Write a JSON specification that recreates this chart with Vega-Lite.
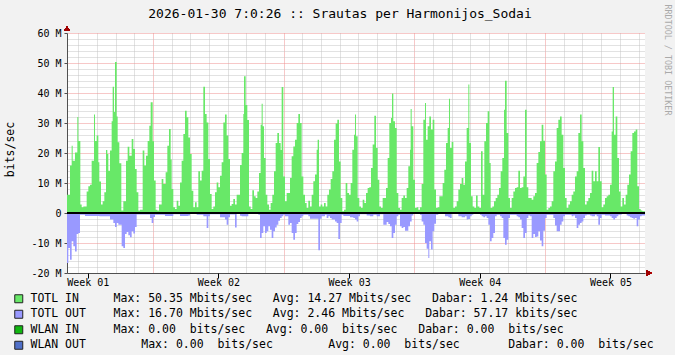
{
"$schema": "https://vega.github.io/schema/vega-lite/v6.json",
"width": 578, "height": 240,
"autosize": {"type": "none"},
"padding": {"left": 67, "top": 33, "right": 30, "bottom": 82},
"background": "#F2F2F2",
"config": {"font": "DejaVu Sans Mono", "view": {"stroke": null, "fill": "#FFFFFF"}},
"title": {"text": "2026-01-30 7:0:26 :: Srautas per Harmonijos_Sodai", "font": "DejaVu Sans Mono", "fontSize": 13, "fontWeight": "normal", "color": "#000000", "anchor": "middle", "dx": -16, "offset": -27, "baseline": "alphabetic"},
"data": {"values": [
{"t":2.39,"i":6.1,"o":-16.7},{"t":2.461,"i":6.1,"o":-11.7},{"t":2.551,"i":15.8,"o":-15.6},{"t":2.64,"i":22.4,"o":-9.4},{"t":2.694,"i":17.4,"o":-9.4},{"t":2.729,"i":17.4,"o":-11.1},{"t":2.818,"i":20.2,"o":-12.8},{"t":2.908,"i":20.2,"o":-7},{"t":2.943,"i":32,"o":-7},{"t":2.997,"i":24,"o":-6.7},{"t":3.086,"i":24,"o":-0.6},{"t":3.104,"i":2.8,"o":-0.6},{"t":3.176,"i":1.9,"o":-0.6},{"t":3.265,"i":2.2,"o":-0.6},{"t":3.354,"i":2.2,"o":-1},{"t":3.443,"i":7.2,"o":-1},{"t":3.533,"i":8.9,"o":-1},{"t":3.622,"i":9.4,"o":-1},{"t":3.711,"i":17.4,"o":-1},{"t":3.836,"i":32.8,"o":-1},{"t":3.89,"i":24,"o":-1},{"t":3.979,"i":25.8,"o":-1},{"t":4.068,"i":16.9,"o":-1},{"t":4.122,"i":10.5,"o":-1.1},{"t":4.211,"i":2.8,"o":-1.1},{"t":4.3,"i":3.9,"o":-1.1},{"t":4.39,"i":6.9,"o":-1.1},{"t":4.479,"i":21,"o":-1.1},{"t":4.55,"i":19.7,"o":-1.1},{"t":4.604,"i":14.1,"o":-1.1},{"t":4.693,"i":20.8,"o":-2.2},{"t":4.782,"i":30.6,"o":-2.2},{"t":4.836,"i":42.1,"o":-2.2},{"t":4.872,"i":42.1,"o":-3.3},{"t":4.907,"i":33.7,"o":-3.3},{"t":4.961,"i":50.35,"o":-4.7},{"t":5.05,"i":32.2,"o":-3.3},{"t":5.104,"i":23.6,"o":-3.3},{"t":5.139,"i":23.6,"o":-3.9},{"t":5.193,"i":16.6,"o":-3.9},{"t":5.3,"i":0.8,"o":-3.9},{"t":5.318,"i":0.8,"o":-11.1},{"t":5.407,"i":3.9,"o":-11.7},{"t":5.497,"i":3.9,"o":-7},{"t":5.55,"i":17.4,"o":-7},{"t":5.586,"i":17.4,"o":-6.3},{"t":5.639,"i":22.1,"o":-6.3},{"t":5.675,"i":22.1,"o":-7.4},{"t":5.729,"i":19.1,"o":-7.4},{"t":5.764,"i":19.1,"o":-8.1},{"t":5.854,"i":24.7,"o":-6.1},{"t":5.943,"i":21.3,"o":-6.8},{"t":6.032,"i":14.7,"o":-4.7},{"t":6.121,"i":6.9,"o":-0.5},{"t":6.211,"i":0.8,"o":-0.5},{"t":6.3,"i":1.1,"o":-0.5},{"t":6.443,"i":20.8,"o":-0.5},{"t":6.532,"i":15.8,"o":-0.5},{"t":6.621,"i":19.1,"o":-0.5},{"t":6.71,"i":24,"o":-0.5},{"t":6.8,"i":29.1,"o":-0.5},{"t":6.835,"i":29.1,"o":-1.7},{"t":6.871,"i":36.9,"o":-1.7},{"t":6.925,"i":36.9,"o":-3.3},{"t":6.978,"i":23.9,"o":-3.3},{"t":7.014,"i":23.9,"o":-1.3},{"t":7.05,"i":10.8,"o":-1.3},{"t":7.103,"i":10.8,"o":-0.6},{"t":7.139,"i":1.1,"o":-0.6},{"t":7.228,"i":0.8,"o":-0.6},{"t":7.317,"i":2.8,"o":-0.6},{"t":7.46,"i":11.3,"o":-0.6},{"t":7.55,"i":9.7,"o":-0.6},{"t":7.639,"i":9.7,"o":-1},{"t":7.674,"i":13.6,"o":-1},{"t":7.764,"i":22.4,"o":-1},{"t":7.853,"i":28,"o":-1},{"t":7.942,"i":17.8,"o":-1},{"t":7.996,"i":8,"o":-1},{"t":8.085,"i":1.9,"o":-0.4},{"t":8.174,"i":1.3,"o":-0.4},{"t":8.264,"i":4.1,"o":-0.4},{"t":8.353,"i":2.4,"o":-0.4},{"t":8.442,"i":10.2,"o":-1},{"t":8.531,"i":17.4,"o":-1},{"t":8.621,"i":26.3,"o":-1},{"t":8.71,"i":34.1,"o":-1},{"t":8.799,"i":31.9,"o":-1},{"t":8.889,"i":25.2,"o":-0.8},{"t":8.978,"i":19.7,"o":-0.3},{"t":9.067,"i":7.4,"o":-0.3},{"t":9.156,"i":1.9,"o":-0.3},{"t":9.246,"i":3.6,"o":-0.3},{"t":9.335,"i":1.9,"o":-0.6},{"t":9.424,"i":13.9,"o":-0.6},{"t":9.513,"i":10.8,"o":-0.6},{"t":9.603,"i":14.1,"o":-0.6},{"t":9.692,"i":42.1,"o":-1.1},{"t":9.781,"i":33,"o":-1.1},{"t":9.87,"i":30.2,"o":-5},{"t":9.96,"i":18,"o":-1.1},{"t":10.049,"i":6.3,"o":-0.4},{"t":10.138,"i":1.3,"o":-0.4},{"t":10.227,"i":2.2,"o":-0.4},{"t":10.317,"i":6.9,"o":-0.4},{"t":10.406,"i":10.2,"o":-0.4},{"t":10.495,"i":8.6,"o":-0.4},{"t":10.584,"i":12.4,"o":-1.4},{"t":10.674,"i":16.9,"o":-1.4},{"t":10.763,"i":30.2,"o":-1.4},{"t":10.852,"i":32.8,"o":-2.2},{"t":10.941,"i":25.8,"o":-3.9},{"t":11.031,"i":18,"o":-1.4},{"t":11.12,"i":2.4,"o":-0.5},{"t":11.209,"i":3,"o":-0.5},{"t":11.298,"i":4.7,"o":-0.5},{"t":11.388,"i":2.8,"o":-4.8},{"t":11.477,"i":6.1,"o":-0.3},{"t":11.566,"i":6.1,"o":-0.3},
{"t":11.656,"i":16,"o":-0.9},{"t":11.745,"i":20,"o":-1.1},{"t":11.834,"i":33,"o":-1.1},{"t":11.87,"i":45.6,"o":-1.1},{"t":11.959,"i":36,"o":-1.1},{"t":12.048,"i":31,"o":-1.1},{"t":12.102,"i":31,"o":-0.3},{"t":12.138,"i":2.2,"o":-0.3},{"t":12.227,"i":1.3,"o":-0.3},{"t":12.316,"i":7.6,"o":-0.3},{"t":12.405,"i":5.6,"o":-0.3},{"t":12.495,"i":5,"o":-0.3},{"t":12.584,"i":7.2,"o":-0.3},{"t":12.638,"i":7.2,"o":-0.6},{"t":12.673,"i":13.3,"o":-0.6},{"t":12.727,"i":13.3,"o":-8.3},{"t":12.762,"i":29.4,"o":-8.3},{"t":12.816,"i":36.4,"o":-6.7},{"t":12.87,"i":28.9,"o":-6.7},{"t":12.905,"i":28.9,"o":-4.4},{"t":12.941,"i":18.3,"o":-4.4},{"t":12.995,"i":18.3,"o":-6.7},{"t":13.03,"i":6.1,"o":-6.7},{"t":13.084,"i":6.1,"o":-6.1},{"t":13.12,"i":2.8,"o":-6.1},{"t":13.173,"i":2.8,"o":-4.4},{"t":13.209,"i":1.1,"o":-4.4},{"t":13.262,"i":1.1,"o":-5.6},{"t":13.298,"i":3.3,"o":-5.6},{"t":13.352,"i":3.3,"o":-8.3},{"t":13.387,"i":6.1,"o":-8.3},{"t":13.441,"i":6.1,"o":-6.1},{"t":13.477,"i":13.9,"o":-6.1},{"t":13.53,"i":13.9,"o":-4.8},{"t":13.566,"i":23.3,"o":-4.8},{"t":13.619,"i":23.3,"o":-3.9},{"t":13.655,"i":26.7,"o":-3.9},{"t":13.709,"i":26.7,"o":-2.6},{"t":13.744,"i":23.3,"o":-2.6},{"t":13.798,"i":23.3,"o":-1.7},{"t":13.834,"i":21,"o":-1.7},{"t":13.887,"i":42,"o":-1.1},{"t":13.976,"i":12.2,"o":-0.6},{"t":14.066,"i":3.9,"o":-1.1},{"t":14.155,"i":6.7,"o":-1.1},{"t":14.244,"i":6.7,"o":-3.9},{"t":14.334,"i":11.7,"o":-3.3},{"t":14.423,"i":18.9,"o":-6.7},{"t":14.512,"i":22.2,"o":-8.9},{"t":14.601,"i":24.4,"o":-6.7},{"t":14.691,"i":30,"o":-3.7},{"t":14.78,"i":33,"o":-3},{"t":14.869,"i":30,"o":-1.7},{"t":14.958,"i":12.2,"o":-1.1},{"t":15.048,"i":6.1,"o":-0.6},{"t":15.137,"i":3.3,"o":-0.6},{"t":15.226,"i":1.7,"o":-0.6},{"t":15.315,"i":4.1,"o":-1.1},{"t":15.405,"i":2.2,"o":-1.9},{"t":15.494,"i":6.1,"o":-1.9},{"t":15.583,"i":10.6,"o":-1.9},{"t":15.672,"i":12.8,"o":-1.9},{"t":15.762,"i":21.1,"o":-1.9},{"t":15.815,"i":24.4,"o":-1.9},{"t":15.851,"i":24.4,"o":-12.4},{"t":15.887,"i":2.2,"o":-12.4},{"t":15.94,"i":2.2,"o":-1.9},{"t":15.976,"i":2.8,"o":-1.9},{"t":16.029,"i":2.8,"o":-1.1},{"t":16.065,"i":2.2,"o":-1.1},{"t":16.154,"i":3.3,"o":-1.1},{"t":16.208,"i":3.3,"o":-0.6},{"t":16.244,"i":2.2,"o":-0.6},{"t":16.297,"i":2.2,"o":-1.7},{"t":16.333,"i":6.1,"o":-1.7},{"t":16.387,"i":6.1,"o":-1.1},{"t":16.422,"i":7.8,"o":-1.1},{"t":16.476,"i":7.8,"o":-1.7},{"t":16.512,"i":11.3,"o":-1.7},{"t":16.565,"i":11.3,"o":-2.2},{"t":16.601,"i":13.9,"o":-2.2},{"t":16.69,"i":24.4,"o":-2.2},{"t":16.744,"i":24.4,"o":-2.8},{"t":16.779,"i":29.8,"o":-2.8},{"t":16.833,"i":29.8,"o":-3.3},{"t":16.869,"i":31.1,"o":-3.3},{"t":16.922,"i":31.1,"o":-8.7},{"t":16.958,"i":17.2,"o":-8.7},{"t":17.011,"i":17.2,"o":-3.3},{"t":17.047,"i":5,"o":-3.3},{"t":17.101,"i":5,"o":-0.6},{"t":17.136,"i":0.6,"o":-0.6},{"t":17.19,"i":0.6,"o":-1},{"t":17.226,"i":1.1,"o":-1},{"t":17.315,"i":10,"o":-1},{"t":17.404,"i":6.7,"o":-1},{"t":17.494,"i":6.1,"o":-1},{"t":17.547,"i":6.1,"o":-1.4},{"t":17.583,"i":10,"o":-1.4},{"t":17.672,"i":21.1,"o":-1.4},{"t":17.726,"i":21.1,"o":-1.7},{"t":17.761,"i":26.1,"o":-1.7},{"t":17.815,"i":32.8,"o":-2.2},{"t":17.868,"i":25.6,"o":-2.2},{"t":17.904,"i":25.6,"o":-2.8},{"t":17.958,"i":5,"o":-2.8},{"t":17.993,"i":5,"o":-1.1},{"t":18.047,"i":2.2,"o":-1.1},{"t":18.083,"i":2.2,"o":-0.4},{"t":18.136,"i":1.7,"o":-0.4},{"t":18.226,"i":4.4,"o":-0.4},{"t":18.315,"i":3.3,"o":-0.4},{"t":18.404,"i":6.7,"o":-0.4},{"t":18.44,"i":6.7,"o":-0.8},{"t":18.493,"i":8.3,"o":-0.8},{"t":18.583,"i":8.6,"o":-0.8},{"t":18.618,"i":8.6,"o":-1.1},{"t":18.672,"i":15,"o":-1.1},{"t":18.761,"i":22.8,"o":-1.1},{"t":18.797,"i":22.8,"o":-0.6},{"t":18.85,"i":32.4,"o":-0.6},{"t":18.94,"i":21.7,"o":-0.6},{"t":18.975,"i":21.7,"o":-1.1},{"t":19.029,"i":11.1,"o":-1.1},{"t":19.118,"i":2.2,"o":-1.1},{"t":19.154,"i":2.2,"o":-0.4},{"t":19.207,"i":1.7,"o":-0.4},{"t":19.297,"i":5,"o":-0.4},{"t":19.332,"i":5,"o":-3.9},{"t":19.475,"i":8.3,"o":-3.9},{"t":19.511,"i":8.3,"o":-3},{"t":19.565,"i":18.3,"o":-3},{"t":19.6,"i":18.3,"o":-3.7},{"t":19.654,"i":30,"o":-3.7},{"t":19.689,"i":30,"o":-4.4},{"t":19.743,"i":31.7,"o":-4.4},{"t":19.779,"i":31.7,"o":-8.3},{"t":19.797,"i":39.8,"o":-8.3},{"t":19.868,"i":30.6,"o":-6.7},{"t":19.957,"i":28.3,"o":-3.9},{"t":20.047,"i":6.7,"o":-1.1},{"t":20.136,"i":1.7,"o":-0.6},{"t":20.225,"i":1.1,"o":-4.4},{"t":20.314,"i":5,"o":-5},{"t":20.404,"i":5.8,"o":-4.7},{"t":20.493,"i":5,"o":-5.9},{"t":20.582,"i":8.3,"o":-5.9},{"t":20.671,"i":15.6,"o":-4.4},{"t":20.761,"i":21.1,"o":-2.8},{"t":20.796,"i":34.7,"o":-2.8},{"t":20.85,"i":28.9,"o":-0.8},{"t":20.939,"i":11.1,"o":-0.3},{"t":21.028,"i":1.7,"o":-0.3},{"t":21.118,"i":1.9,"o":-0.3},{"t":21.207,"i":1.1,"o":-0.3},{"t":21.296,"i":1.9,"o":-0.6},{"t":21.385,"i":9.7,"o":-2.8},{"t":21.475,"i":31.1,"o":-3.9},{"t":21.564,"i":36.7,"o":-10},{"t":21.618,"i":24.4,"o":-10},{"t":21.653,"i":24.4,"o":-11.9},{"t":21.707,"i":28.9,"o":-11.9},{"t":21.743,"i":28.9,"o":-15},{"t":21.796,"i":32.2,"o":-9.4},{"t":21.885,"i":27.8,"o":-12.2},{"t":21.975,"i":31.1,"o":-6.1},{"t":22.064,"i":7.8,"o":-3.6},{"t":22.153,"i":1.7,"o":-0.6},{"t":22.242,"i":1.9,"o":-0.6},{"t":22.278,"i":1.9,"o":-0.3},{"t":22.332,"i":5.6,"o":-0.3},{"t":22.51,"i":10,"o":-0.3},{"t":22.599,"i":14.4,"o":-0.3},{"t":22.635,"i":14.4,"o":-1.1},{"t":22.689,"i":23.3,"o":-1.1},{"t":22.778,"i":28.3,"o":-1.1},{"t":22.814,"i":28.3,"o":-1.4},{"t":22.849,"i":38.1,"o":-1.4},
{"t":22.904,"i":21.7,"o":-1.7},{"t":22.993,"i":23.7,"o":-0.3},{"t":23.082,"i":1.7,"o":-0.2},{"t":23.171,"i":2.2,"o":-0.2},{"t":23.261,"i":3.9,"o":-0.2},{"t":23.35,"i":7.8,"o":-1.1},{"t":23.439,"i":9.7,"o":-1.1},{"t":23.528,"i":11.7,"o":-1.4},{"t":23.618,"i":9.4,"o":-1.4},{"t":23.707,"i":17.2,"o":-1.1},{"t":23.796,"i":28.3,"o":-2.2},{"t":23.886,"i":42.8,"o":-2},{"t":23.939,"i":23.3,"o":-2},{"t":23.975,"i":23.3,"o":-1.1},{"t":24.028,"i":5.6,"o":-1.1},{"t":24.064,"i":5.6,"o":-0.6},{"t":24.118,"i":2.2,"o":-0.6},{"t":24.153,"i":2.2,"o":-0.2},{"t":24.207,"i":1.7,"o":-0.2},{"t":24.296,"i":5.8,"o":-0.2},{"t":24.385,"i":2.2,"o":-0.2},{"t":24.475,"i":1.7,"o":-0.2},{"t":24.51,"i":1.7,"o":-0.6},{"t":24.564,"i":20.6,"o":-0.6},{"t":24.6,"i":20.6,"o":-1.1},{"t":24.653,"i":6.1,"o":-1.1},{"t":24.689,"i":6.1,"o":-1.4},{"t":24.742,"i":23.9,"o":-1.4},{"t":24.778,"i":23.9,"o":-1.1},{"t":24.832,"i":30,"o":-1.1},{"t":24.867,"i":30,"o":-1.7},{"t":24.921,"i":33.9,"o":-1.7},{"t":24.957,"i":33.9,"o":-3.9},{"t":25.01,"i":16.7,"o":-3.9},{"t":25.046,"i":16.7,"o":-9.4},{"t":25.082,"i":1.7,"o":-9.4},{"t":25.135,"i":1.7,"o":-8.3},{"t":25.171,"i":2.2,"o":-8.3},{"t":25.224,"i":2.2,"o":-6.7},{"t":25.26,"i":3.9,"o":-6.7},{"t":25.314,"i":3.9,"o":-1.1},{"t":25.349,"i":5,"o":-1.1},{"t":25.403,"i":5,"o":-0.6},{"t":25.439,"i":6.1,"o":-0.6},{"t":25.528,"i":8.3,"o":-0.6},{"t":25.582,"i":8.3,"o":-1.1},{"t":25.617,"i":13.9,"o":-1.1},{"t":25.671,"i":13.9,"o":-1.7},{"t":25.706,"i":18.3,"o":-1.7},{"t":25.76,"i":18.3,"o":-8.3},{"t":25.796,"i":34.4,"o":-8.3},{"t":25.849,"i":44.1,"o":-10.6},{"t":25.939,"i":26.7,"o":-8.9},{"t":26.028,"i":5,"o":-1.7},{"t":26.117,"i":1.7,"o":-0.6},{"t":26.206,"i":5,"o":-0.6},{"t":26.296,"i":7.2,"o":-0.6},{"t":26.385,"i":8.3,"o":-0.6},{"t":26.474,"i":8.6,"o":-1.1},{"t":26.563,"i":14.1,"o":-1.4},{"t":26.653,"i":8.3,"o":-2.2},{"t":26.742,"i":8.6,"o":-5},{"t":26.831,"i":12.2,"o":-8.3},{"t":26.921,"i":34.4,"o":-6.7},{"t":27.01,"i":8.6,"o":-1.7},{"t":27.099,"i":5,"o":-0.8},{"t":27.188,"i":5,"o":-1.1},{"t":27.278,"i":4.4,"o":-8.3},{"t":27.367,"i":5.6,"o":-7},{"t":27.456,"i":6.7,"o":-8},{"t":27.545,"i":16.7,"o":-7.8},{"t":27.635,"i":20.3,"o":-6.1},{"t":27.724,"i":23.9,"o":-9.2},{"t":27.813,"i":29.4,"o":-11.1},{"t":27.902,"i":24.1,"o":-5.9},{"t":27.992,"i":12.8,"o":-1.7},{"t":28.081,"i":1.1,"o":-0.6},{"t":28.17,"i":1.7,"o":-0.6},{"t":28.259,"i":2.2,"o":-0.6},{"t":28.349,"i":3.9,"o":-0.6},{"t":28.438,"i":13.9,"o":-1.7},{"t":28.527,"i":17.2,"o":-4.2},{"t":28.617,"i":28.3,"o":-6.1},{"t":28.706,"i":31.1,"o":-6.1},{"t":28.795,"i":32.2,"o":-3.9},{"t":28.884,"i":26.1,"o":-2.8},{"t":28.974,"i":15,"o":-1.1},{"t":29.063,"i":5,"o":-0.6},{"t":29.152,"i":1.7,"o":-0.6},{"t":29.241,"i":2.8,"o":-0.6},{"t":29.331,"i":3.9,"o":-0.6},{"t":29.42,"i":6.1,"o":-1.1},{"t":29.509,"i":7.2,"o":-0.8},{"t":29.598,"i":12.2,"o":-1.7},{"t":29.688,"i":13.9,"o":-5},{"t":29.777,"i":26.7,"o":-3.9},{"t":29.866,"i":32.8,"o":-3.3},{"t":29.955,"i":23.9,"o":-2.8},{"t":30.045,"i":15,"o":-1.7},{"t":30.134,"i":2.8,"o":-0.8},{"t":30.223,"i":3.9,"o":-0.6},{"t":30.313,"i":5,"o":-0.6},{"t":30.402,"i":6.7,"o":-0.8},{"t":30.491,"i":14.1,"o":-1.1},{"t":30.58,"i":10.6,"o":-1.1},{"t":30.67,"i":13.9,"o":-0.6},{"t":30.759,"i":10.6,"o":-1.1},{"t":30.848,"i":22,"o":-3.9},{"t":30.937,"i":10.6,"o":-1.7},{"t":31.027,"i":1.9,"o":-0.6},{"t":31.116,"i":2.8,"o":-0.6},{"t":31.205,"i":5,"o":-0.8},{"t":31.294,"i":5.6,"o":-0.8},{"t":31.384,"i":6.1,"o":-0.8},{"t":31.473,"i":9.4,"o":-1.1},{"t":31.562,"i":27.2,"o":-1.7},{"t":31.616,"i":42,"o":-1.7},{"t":31.652,"i":42,"o":-2.2},{"t":31.687,"i":26.1,"o":-2.2},{"t":31.741,"i":26.1,"o":-1.7},{"t":31.776,"i":32.2,"o":-1.7},{"t":31.83,"i":32.2,"o":-1.1},{"t":31.866,"i":18.3,"o":-1.1},{"t":31.919,"i":18.3,"o":-0.6},{"t":31.955,"i":7.2,"o":-0.6},{"t":32.044,"i":2.2,"o":-0.6},{"t":32.098,"i":2.2,"o":-0.3},{"t":32.134,"i":5,"o":-0.3},{"t":32.223,"i":2.8,"o":-0.3},{"t":32.312,"i":6.1,"o":-0.3},{"t":32.366,"i":6.1,"o":-0.8},{"t":32.401,"i":9.4,"o":-0.8},{"t":32.455,"i":9.4,"o":-1.1},{"t":32.491,"i":12.8,"o":-1.1},{"t":32.544,"i":12.8,"o":-1.4},{"t":32.58,"i":20.6,"o":-1.4},{"t":32.634,"i":20.6,"o":-1.7},{"t":32.669,"i":26.7,"o":-1.7},{"t":32.723,"i":26.7,"o":-1.9},{"t":32.758,"i":27.2,"o":-1.9},{"t":32.812,"i":27.2,"o":-1.7},{"t":32.848,"i":27.8,"o":-1.7},{"t":32.901,"i":27.8,"o":-4.4},{"t":32.937,"i":8.9,"o":-4.4},{"t":32.99,"i":8.9,"o":-2.2},{"t":33.026,"i":1.3,"o":-2.2},{"t":33.08,"i":1.3,"o":-1.1},{"t":33.116,"i":0.8,"o":-1.1},{"t":33.169,"i":0.8,"o":-0.8},{"t":33.205,"i":0.6,"o":-0.8},{"t":33.348,"i":0.6,"o":-0.8}
]},
"layer": [
{
"transform": [{"fold": ["i", "o"], "as": ["k", "v"]}],
"mark": {"type": "area", "interpolate": "step-after", "opacity": 1},
"encoding": {
"x": {"field": "t", "type": "quantitative", "scale": {"domain": [2.39, 33.348], "nice": false, "zero": false},
 "axis": {"title": null, "orient": "bottom", "values": [3,4,5,6,7,8,9,10,11,12,13,14,15,16,17,18,19,20,21,22,23,24,25,26,27,28,29,30,31,32,33],
  "labels": false, "ticks": false, "domainColor": "#505050",
  "grid": true, "gridDash": [1, 1], "gridWidth": 1,
  "gridColor": {"condition": {"test": "datum.value % 7 === 0", "value": "#EE9090"}, "value": "#C4C4C4"}}},
"y": {"field": "v", "type": "quantitative", "scale": {"domain": [-20, 60], "nice": false, "zero": false},
 "axis": {"title": "bits/sec", "titleFont": "DejaVu Sans Mono", "titleFontSize": 11.5, "titleFontWeight": "normal", "titleColor": "#000000", "titleX": -57, "titleY": 116, "titleAngle": 270, "titleAlign": "center", "titleBaseline": "middle",
  "values": [-20,-18,-16,-14,-12,-10,-8,-6,-4,-2,0,2,4,6,8,10,12,14,16,18,20,22,24,26,28,30,32,34,36,38,40,42,44,46,48,50,52,54,56,58,60],
  "labelExpr": "datum.value % 10 === 0 ? (datum.value === 0 ? '0' : datum.value + ' M') : ''",
  "labelFont": "DejaVu Sans Mono", "labelFontSize": 10, "labelColor": "#000000", "labelPadding": 3, "labelOverlap": false, "labelFlush": false,
  "tickSize": 3, "tickColor": "#505050", "tickOpacity": {"condition": {"test": "datum.value % 10 === 0", "value": 1}, "value": 0},
  "domainColor": "#505050",
  "grid": true, "gridDash": [1, 1], "gridWidth": 1,
  "gridColor": {"condition": {"test": "datum.value % 10 === 0", "value": "#EE9090"}, "value": "#C4C4C4"}}},
"y2": {"datum": 0},
"color": {"field": "k", "type": "nominal",
 "scale": {"domain": ["i", "o", "wi", "wo"], "range": ["#68E868", "#9999FF", "#11B711", "#5070C8"]},
 "legend": {"title": null, "orient": "none", "legendX": -54, "legendY": 260, "direction": "vertical",
  "symbolType": "square", "symbolSize": 64, "symbolOpacity": 1,
  "labelFont": "DejaVu Sans Mono", "labelFontSize": 11.5, "labelColor": "#000000", "labelLimit": 1000, "labelOffset": 6,
  "rowPadding": 2.5, "padding": 0,
  "encode": {"symbols": {"update": {"stroke": {"value": "#222222"}, "strokeWidth": {"value": 1}}}},
  "labelExpr": "datum.label === 'i' ? 'TOTL IN\u00a0\u00a0\u00a0\u00a0\u00a0Max:\u00a050.35\u00a0Mbits/sec\u00a0\u00a0\u00a0Avg:\u00a014.27\u00a0Mbits/sec\u00a0\u00a0\u00a0Dabar:\u00a01.24\u00a0Mbits/sec' : datum.label === 'o' ? 'TOTL OUT\u00a0\u00a0\u00a0\u00a0Max:\u00a016.70\u00a0Mbits/sec\u00a0\u00a0\u00a0Avg:\u00a02.46\u00a0Mbits/sec\u00a0\u00a0\u00a0Dabar:\u00a057.17\u00a0kbits/sec' : datum.label === 'wi' ? 'WLAN IN\u00a0\u00a0\u00a0\u00a0\u00a0Max:\u00a00.00\u00a0\u00a0bits/sec\u00a0\u00a0\u00a0Avg:\u00a00.00\u00a0\u00a0bits/sec\u00a0\u00a0\u00a0Dabar:\u00a00.00\u00a0\u00a0bits/sec' : 'WLAN OUT\u00a0\u00a0\u00a0\u00a0\u00a0\u00a0\u00a0\u00a0Max:\u00a00.00\u00a0\u00a0bits/sec\u00a0\u00a0\u00a0\u00a0\u00a0\u00a0\u00a0\u00a0Avg:\u00a00.00\u00a0\u00a0bits/sec\u00a0\u00a0\u00a0\u00a0\u00a0\u00a0\u00a0Dabar:\u00a00.00\u00a0\u00a0bits/sec'"}}
}
},
{
"mark": {"type": "rule", "color": "#000000", "strokeWidth": 2},
"encoding": {"y": {"datum": 0, "type": "quantitative",
 "axis": {"orient": "right", "title": "RRDTOOL / TOBI OETIKER", "labels": false, "ticks": false, "domain": false, "grid": false,
  "titleFont": "DejaVu Sans Mono", "titleFontSize": 8.4, "titleFontWeight": "normal", "titleColor": "#AAAAAA",
  "titleAngle": 90, "titleX": 22, "titleY": 26.5, "titleAlign": "center", "titleBaseline": "middle"}}}
},
{
"mark": {"type": "point", "shape": "triangle-up", "filled": true, "color": "#A00000", "size": 30, "opacity": 1, "clip": false},
"encoding": {"x": {"datum": 2.39, "type": "quantitative", "axis": null}, "y": {"datum": 61.5, "type": "quantitative", "axis": null}}
},
{
"mark": {"type": "point", "shape": "triangle-right", "filled": true, "color": "#A00000", "size": 30, "opacity": 1, "clip": false},
"encoding": {"x": {"datum": 33.56, "type": "quantitative",
  "axis": {"title": null, "orient": "bottom", "values": [3.5, 10.5, 17.5, 24.5, 31.5],
   "labelExpr": "'Week 0' + toString(floor(datum.value / 7) + 1)",
   "labelFont": "DejaVu Sans Mono", "labelFontSize": 10, "labelColor": "#000000", "labelPadding": -1, "labelOverlap": false, "labelFlush": false,
   "ticks": true, "tickSize": 5, "tickColor": "#000000", "domain": false, "grid": false}},
 "y": {"datum": -20, "type": "quantitative", "axis": null}}
}
],
"resolve": {"axis": {"y": "independent", "x": "independent"}}
}
